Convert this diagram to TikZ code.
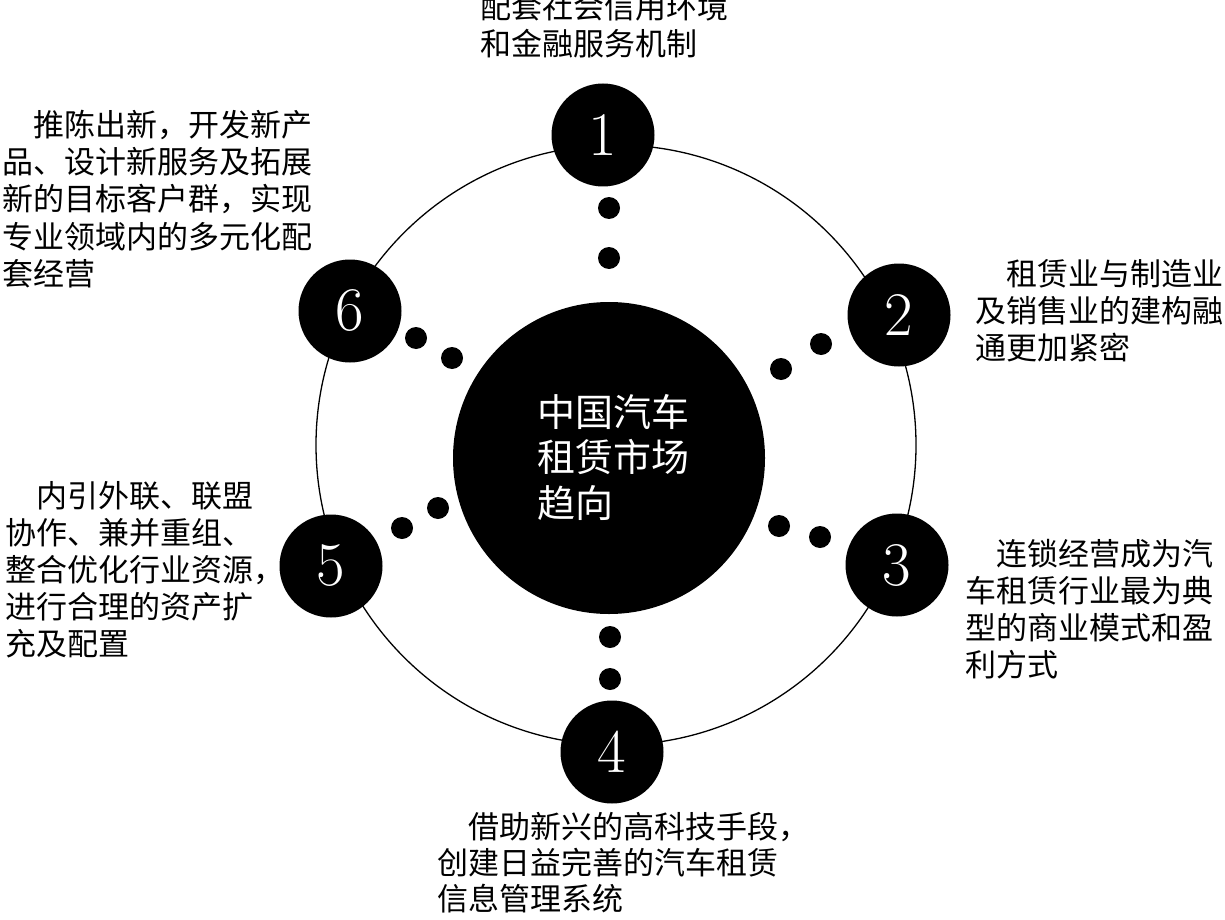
\documentclass[tikz,border=0pt]{standalone}
\usepackage{fontspec}
\newfontfamily\cjk{Noto Sans CJK SC}
\tikzset{
  txt/.style={anchor=base west, inner sep=0pt, font=\cjk\fontsize{31}{37}\selectfont},
  ctxt/.style={anchor=base west, inner sep=0pt, text=white, font=\cjk\fontsize{38}{45}\selectfont},
  numdisc/.style={circle, fill=black, inner sep=0pt, minimum size=103pt, text=white, font=\fontsize{62}{62}\selectfont},
  dotmark/.style={circle, fill=black, inner sep=0pt, minimum size=22pt},
  ring/.style={line width=1.3pt},
  hub/.style={circle, fill=black, minimum size=312pt, inner sep=0pt}
}
% #1 name, #2 x, #3 first baseline y, #4 line spacing, #5 style, #6 lines
\newcommand\txtblock[6]{%
  \foreach \t [count=\i] in {#6} {\node[#5] (#1-\i) at ({#2},{#3+#4*(\i-1)}) {\t};}}
\begin{document}
\begin{tikzpicture}[x=1pt,y=-1pt]
\clip (0,0) rectangle (1225,920);
\fill[white] (0,0) rectangle (1225,920);
\coordinate (O) at (616,445);
\draw[ring] (O) circle[radius=300pt];
\node[hub] (hub) at (609,458) {};
\node[numdisc] (n1) at (603,135) {1};
\node[numdisc] (n2) at (899,315) {2};
\node[numdisc] (n3) at (897,565) {3};
\node[numdisc] (n4) at (612,752) {4};
\node[numdisc] (n5) at (331,566) {5};
\node[numdisc] (n6) at (350,311) {6};
% dots
\node[dotmark] (d1a) at (609,208) {};
\node[dotmark] (d1b) at (609,258) {};
\node[dotmark] (d2a) at (821,344) {};
\node[dotmark] (d2b) at (781,369) {};
\node[dotmark] (d3a) at (779,526) {};
\node[dotmark] (d3b) at (820,537) {};
\node[dotmark] (d4a) at (610,637) {};
\node[dotmark] (d4b) at (610,679) {};
\node[dotmark] (d5a) at (438,508) {};
\node[dotmark] (d5b) at (402,528) {};
\node[dotmark] (d6a) at (416,338) {};
\node[dotmark] (d6b) at (452,358) {};
% centre text
\txtblock{c}{537}{426}{45.5}{ctxt}{中国汽车,租赁市场,趋向}
% outer texts
\txtblock{t1}{480}{19}{37}{txt}{配套社会信用环境,和金融服务机制}
\txtblock{t2}{975}{285}{37}{txt}{\quad 租赁业与制造业,及销售业的建构融,通更加紧密}
\txtblock{t3}{965}{565}{37}{txt}{\quad 连锁经营成为汽,车租赁行业最为典,型的商业模式和盈,利方式}
\txtblock{t4}{437}{838}{36}{txt}{\quad 借助新兴的高科技手段，,创建日益完善的汽车租赁,信息管理系统}
\txtblock{t5}{5}{507}{37}{txt}{\quad 内引外联、联盟,协作、兼并重组、,整合优化行业资源，,进行合理的资产扩,充及配置}
\txtblock{t6}{2}{137}{37}{txt}{\quad 推陈出新，开发新产,品、设计新服务及拓展,新的目标客户群，实现,专业领域内的多元化配,套经营}
\end{tikzpicture}
\end{document}
